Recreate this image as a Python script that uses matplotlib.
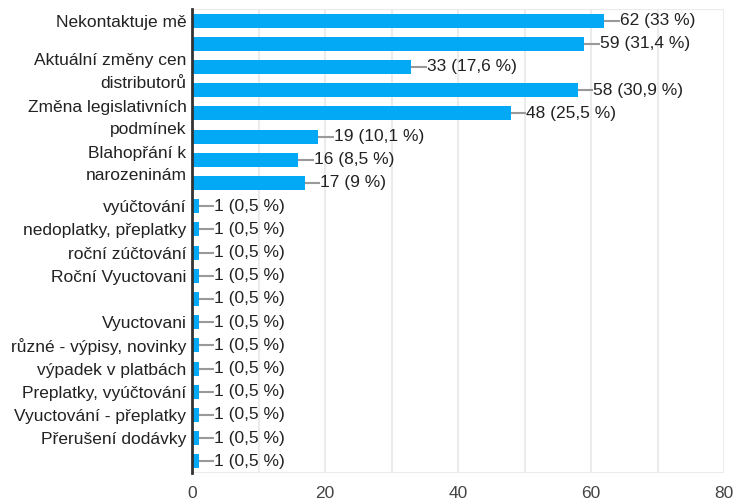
import matplotlib
matplotlib.use("Agg")
import matplotlib.pyplot as plt

plt.rcParams["font.family"] = ["Liberation Sans", "DejaVu Sans"]

# Survey answers (rows without a visible axis label are left blank)
categories = [
    "Nekontaktuje mě",
    "",
    "Aktuální změny cen\ndistributorů",
    "",
    "Změna legislativních\npodmínek",
    "",
    "Blahopřání k\nnarozeninám",
    "",
    "vyúčtování",
    "nedoplatky, přeplatky",
    "roční zúčtování",
    "Roční Vyuctovani",
    "",
    "Vyuctovani",
    "různé - výpisy, novinky",
    "výpadek v platbách",
    "Preplatky, vyúčtování",
    "Vyuctování - přeplatky",
    "Přerušení dodávky",
    "",
]
counts = [62, 59, 33, 58, 48, 19, 16, 17, 1, 1, 1, 1, 1, 1, 1, 1, 1, 1, 1, 1]
respondents = 188
x_ticks = [0, 20, 40, 60, 80]

bar_color = "#03A9F4"
text_color = "#222222"
fs = 12.5

fig = plt.figure(figsize=(7.34, 5.0), dpi=100)
ax = fig.add_axes([192 / 734, 1 - 473 / 500, 532 / 734, 464 / 500])

ypos = list(range(len(counts)))
ax.barh(ypos, counts, height=0.6, color=bar_color, zorder=3)

ax.set_xlim(0, 80)
ax.set_ylim(len(counts) - 0.5, -0.5)

# light vertical grid every 10 units
for gx in range(10, 81, 10):
    ax.axvline(gx, color="#ebebeb", lw=1.5, zorder=1)
ax.axhline(-0.5, color="#ebebeb", lw=1.5, zorder=1)
ax.axhline(len(counts) - 0.5, color="#ebebeb", lw=1.5, zorder=1)

for s in ["top", "right", "bottom"]:
    ax.spines[s].set_visible(False)
ax.spines["left"].set_color("#333333")
ax.spines["left"].set_linewidth(2)
ax.spines["left"].set_zorder(4)

ax.set_xticks(x_ticks)
ax.set_xticklabels([str(t) for t in x_ticks], fontsize=fs, color="#444444")
ax.tick_params(axis="x", length=0, pad=9)

ax.set_yticks(ypos)
ax.set_yticklabels(categories, fontsize=fs, color=text_color, linespacing=1.6)
ax.tick_params(axis="y", length=0, pad=4)


def fmt_pct(v):
    p = round(v / respondents * 100, 1)
    s = f"{p:.1f}"
    if s.endswith(".0"):
        s = s[:-2]
    return s.replace(".", ",")


# value labels joined to the bar ends by a short grey leader
lead = 2.3
for y, v in zip(ypos, counts):
    ax.plot([v, v + lead], [y, y], color="#999999", lw=1.5, zorder=3,
            solid_capstyle="butt")
    ax.text(v + lead, y, f"{v} ({fmt_pct(v)} %)", va="center", ha="left",
            fontsize=fs, color=text_color, zorder=4)

fig.savefig("out.png", dpi=100)
